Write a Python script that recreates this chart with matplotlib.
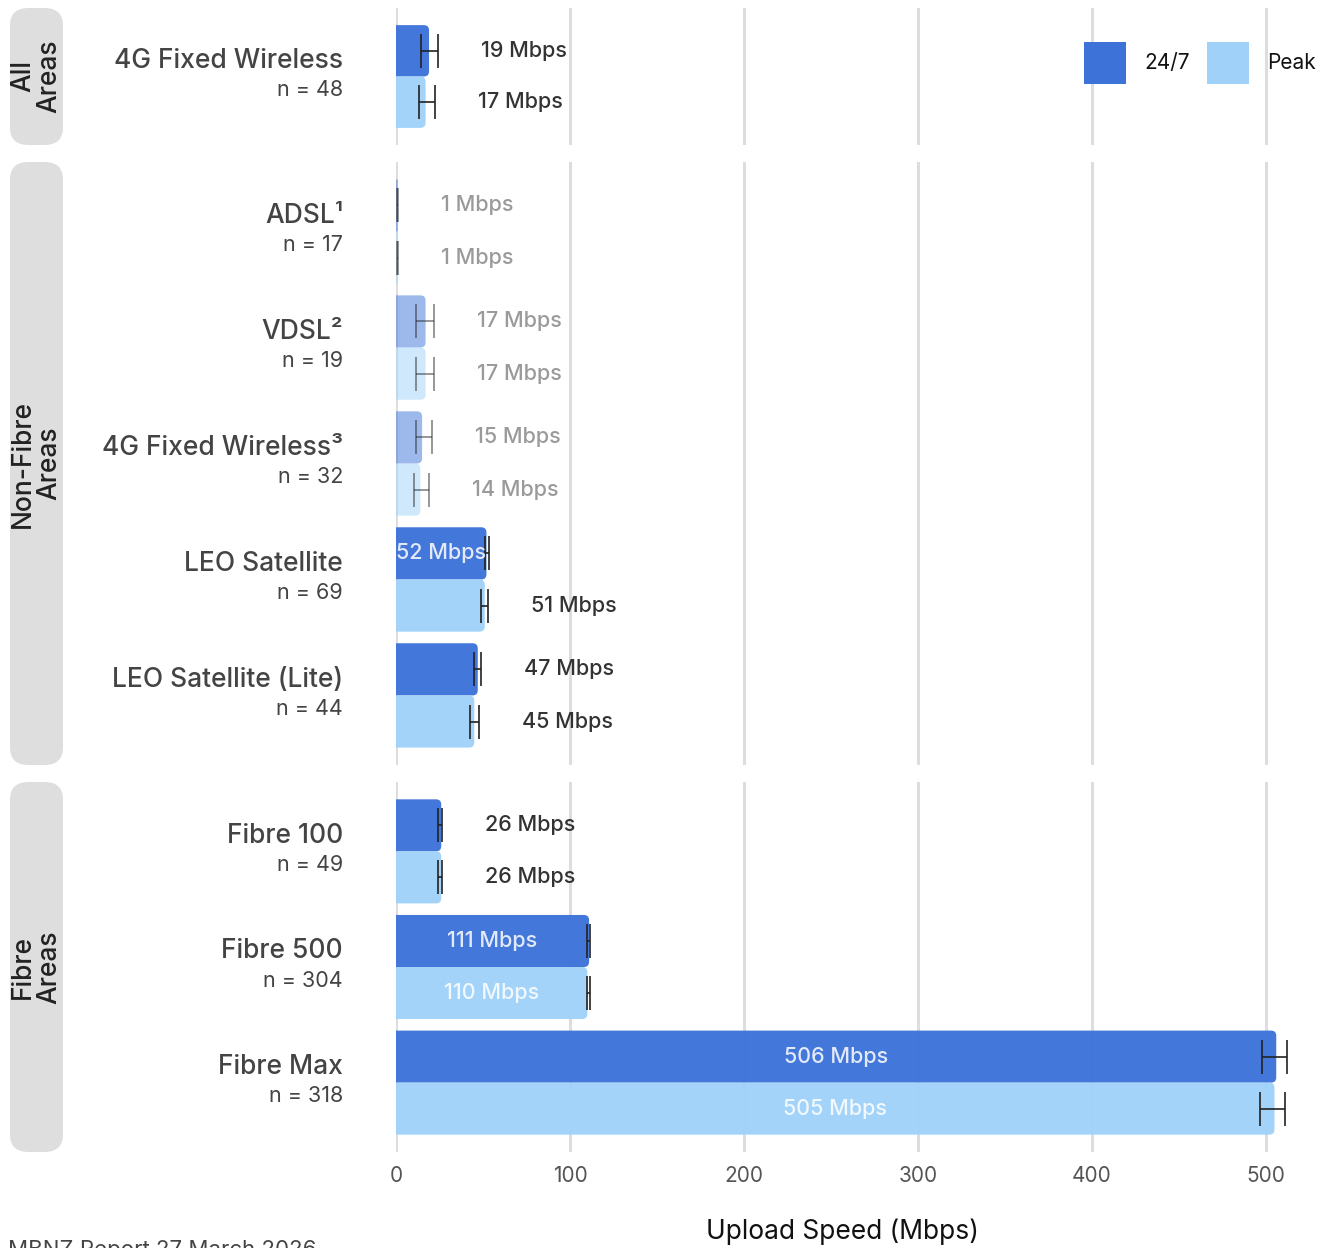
import matplotlib
matplotlib.use("Agg")
import matplotlib.pyplot as plt
from matplotlib.patches import FancyBboxPatch, Rectangle
from matplotlib.transforms import blended_transform_factory

plt.rcParams['font.family'] = ['Inter', 'DejaVu Sans']


# Data ...........................................................................................

panel_labels = ["All\nAreas", "Non-Fibre\nAreas", "Fibre\nAreas"]

categories = ["4G Fixed Wireless",
              "ADSL¹", "VDSL²", "4G Fixed Wireless³", "LEO Satellite", "LEO Satellite (Lite)",
              "Fibre 100", "Fibre 500", "Fibre Max"]
panel_of = [0, 1, 1, 1, 1, 1, 2, 2, 2]
n_obs = [48, 17, 19, 32, 69, 44, 49, 304, 318]
faded = [False, True, True, True, False, False, False, False, False]

speed_247 = [19, 1, 17, 15, 52, 47, 26, 111, 506]
speed_peak = [17, 1, 17, 14, 51, 45, 26, 110, 505]

# confidence interval ends
lo_247 = [14.2, 0.7, 11.3, 11.3, 51.1, 44.6, 24.3, 109.6, 497.7]
hi_247 = [24.3, 1.3, 21.8, 20.9, 53.6, 48.7, 26.6, 111.5, 512.0]
lo_peak = [13.2, 0.7, 11.3, 10.2, 49.0, 42.5, 24.3, 109.6, 496.4]
hi_peak = [22.4, 1.3, 21.8, 19.2, 52.7, 47.5, 26.6, 111.4, 511.0]

series_names = ["24/7", "Peak"]
x_ticks = [0, 100, 200, 300, 400, 500]


# Style ..........................................................................................

C_247 = '#3d73d8'
C_PEAK = '#a0d2f9'
GRID = '#dddddd'
W, H = 1330, 1248
PX_X = 1.74      # pixels per Mbps
PX_Y = 116.0     # pixels per category row

def fx(px):
    return px / W

def fy(py):
    return 1 - py / H

# panel extents in pixels (top, bottom)
panel_px = [(8, 145), (162, 765), (782, 1152)]


# Plot ...........................................................................................

fig = plt.figure(figsize = (13.3, 12.48), dpi = 100)

for p, (top, bot) in enumerate(panel_px):

    ax = fig.add_axes([fx(396), fy(bot), fx(1318) - fx(396), (bot - top) / H])
    idx = [i for i, g in enumerate(panel_of) if g == p]
    k = len(idx)

    for j, i in enumerate(idx):
        alpha = 0.5 if faded[i] else 0.97
        rows = [(j - 0.225, speed_247[i], lo_247[i], hi_247[i], C_247),
                (j + 0.225, speed_peak[i], lo_peak[i], hi_peak[i], C_PEAK)]
        for y, v, lo, hi, col in rows:
            # bar with rounded right corners (left ones hidden behind x = 0)
            r = min(3.0, v / 2)
            ax.add_patch(FancyBboxPatch((-4, y - 0.225), v + 4, 0.45,
                                        boxstyle = f'round,pad=0,rounding_size={r}',
                                        mutation_aspect = PX_X / PX_Y, facecolor = col,
                                        edgecolor = 'none', alpha = alpha, zorder = 2))
            ax.errorbar(v, y, xerr = [[v - lo], [hi - v]], fmt = 'none', ecolor = '#222222',
                        elinewidth = 1.2, capsize = 12.5, capthick = 1.2,
                        alpha = 0.55 if faded[i] else 1.0, zorder = 3)
            if v >= 52:
                ax.text(v / 2, y, f'{v} Mbps', ha = 'center', va = 'center', fontsize = 15.5,
                        fontweight = 'medium', color = 'white', alpha = 0.85, zorder = 4)
            else:
                ax.text(hi + 24.7, y, f'{v} Mbps', ha = 'left', va = 'center', fontsize = 15.5,
                        fontweight = 'medium', color = '#9a9a9a' if faded[i] else '#333333',
                        zorder = 4)

        # category label + sample size
        tr = blended_transform_factory(fig.transFigure, ax.transData)
        ax.text(fx(343), j - 0.135, categories[i], transform = tr, ha = 'right', va = 'center',
                fontsize = 19, fontweight = 'medium', color = '#444444')
        ax.text(fx(343), j + 0.12, f'n = {n_obs[i]}', transform = tr, ha = 'right', va = 'center',
                fontsize = 15.5, color = '#444444')

    ax.set_ylim(k - 0.4, -0.6)
    ax.set_xlim(0, 530)
    ax.set_xticks(x_ticks)
    ax.set_yticks([])
    ax.grid(axis = 'x', color = GRID, lw = 2.2)
    ax.set_axisbelow(True)
    for s in ax.spines.values():
        s.set_visible(False)
    ax.tick_params(axis = 'x', length = 0, labelsize = 15, labelcolor = '#555555', pad = 10)
    if p < 2:
        ax.tick_params(axis = 'x', labelbottom = False)

    # facet strip on the left
    fig.add_artist(FancyBboxPatch((fx(10), fy(bot)), fx(53), (bot - top) / H,
                                  boxstyle = 'round,pad=0,rounding_size=0.014',
                                  transform = fig.transFigure, facecolor = '#dedede',
                                  edgecolor = 'none'))
    fig.text(fx(36), fy((top + bot) / 2), panel_labels[p], rotation = 90, ha = 'center',
             va = 'center', fontsize = 19, fontweight = 'medium', color = '#222222',
             multialignment = 'center', linespacing = 1.0)

# legend (manual, top right)
for name, col, x0 in zip(series_names, [C_247, C_PEAK], [1084, 1207]):
    fig.add_artist(Rectangle((fx(x0), fy(84)), fx(42), 42 / H, transform = fig.transFigure,
                             facecolor = col, edgecolor = 'none'))
    fig.text(fx(x0 + 60), fy(63), name, ha = 'left', va = 'center', fontsize = 15, color = '#111111')

fig.text(fx(842), fy(1232), 'Upload Speed (Mbps)', ha = 'center', va = 'center',
         fontsize = 19, color = '#111111')
fig.text(fx(8), fy(1240), 'MBNZ Report 27 March 2026', ha = 'left', va = 'top',
         fontsize = 16, color = '#444444')

plt.savefig('out.png', dpi = 100)
